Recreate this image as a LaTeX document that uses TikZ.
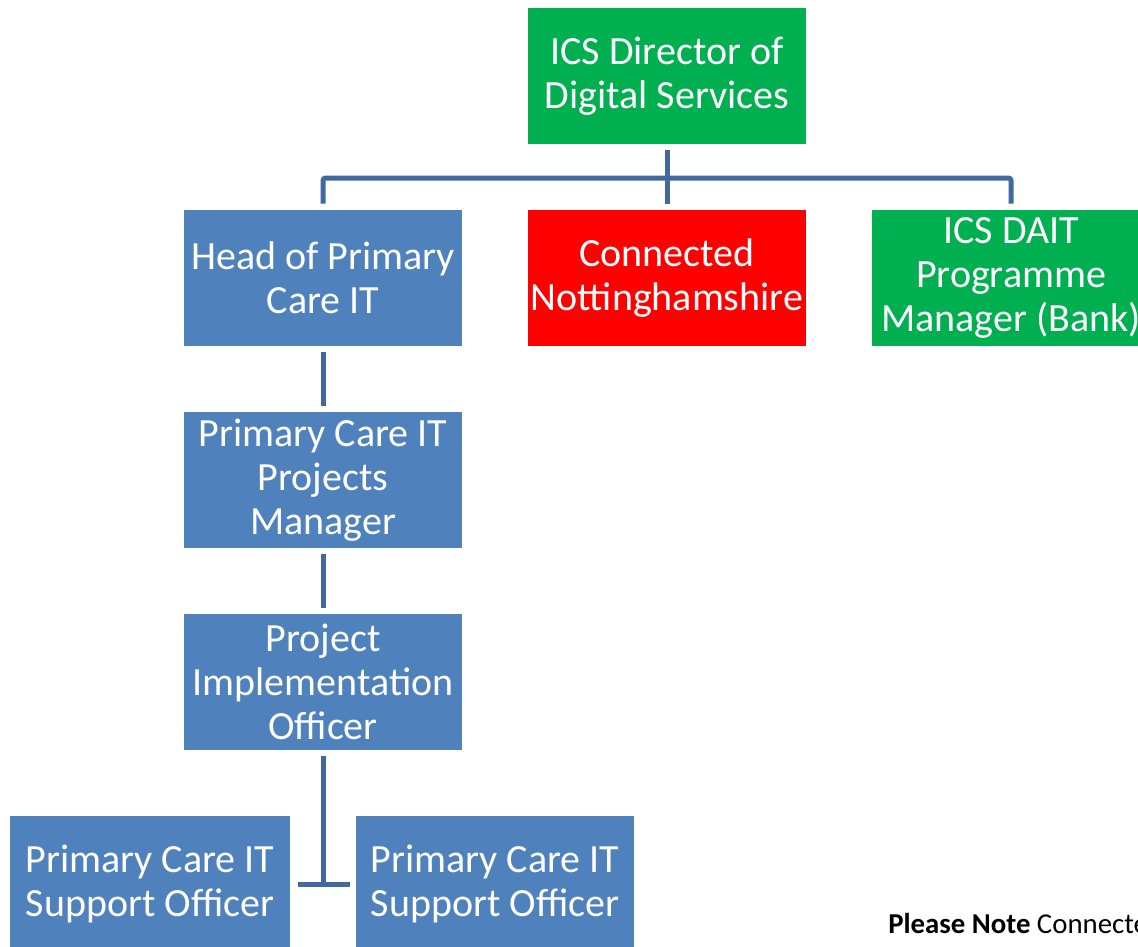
\documentclass[tikz,border=0pt]{standalone}
\usepackage{fontspec}
\setmainfont{Carlito}
\definecolor{boxblue}{RGB}{79,129,189}
\definecolor{boxgreen}{RGB}{0,176,80}
\definecolor{boxred}{RGB}{255,0,0}
\definecolor{linkblue}{RGB}{65,105,155}

\begin{document}
\begin{tikzpicture}[x=0.75pt,y=0.75pt]
\tikzstyle{rolebox}=[rectangle, fill=boxblue, text=white, align=center, inner sep=0pt,
  minimum width=208.5pt, minimum height=102pt, font=\fontsize{30}{33}\selectfont]
\tikzstyle{link}=[draw=linkblue, line width=3.75pt, shorten <=4.5pt, shorten >=4.5pt]
\useasboundingbox (0,0) rectangle (1138,-946);
\clip (0,0) rectangle (1138,-946);
\node [rolebox, fill=boxgreen] (dir) at (667,-76) {ICS Director of\\Digital Services};
\node [rolebox] (head) at (323,-278) {Head of Primary\\Care IT};
\node [rolebox, fill=boxred] (conn) at (667,-278) {Connected\\Nottinghamshire};
\node [rolebox, fill=boxgreen] (dait) at (1011,-278) {ICS DAIT\\Programme\\Manager (Bank)};
\node [rolebox] (pm) at (323,-480) {Primary Care IT\\Projects\\Manager};
\node [rolebox] (pio) at (323,-682) {Project\\Implementation\\Officer};
\node [rolebox, minimum width=210pt] (supl) at (150,-884) {Primary Care IT\\Support Officer};
\node [rolebox] (supr) at (495,-884) {Primary Care IT\\Support Officer};
\coordinate (bar) at (667,-178);
\draw [link] (dir.south) -- (conn.north);
\draw [link, rounded corners=2pt] (head.north) |- (bar) -| (dait.north);
\draw [link] (head.south) -- (pm.north);
\draw [link] (pm.south) -- (pio.north);
\draw [link, shorten >=0pt] (pio.south) -- (pio.south |- supl.east);
\draw [link, shorten <=6pt, shorten >=4.5pt] (supl.east) -- (supr.west);
\node [anchor=base west, inner sep=0pt, font=\fontsize{21.6}{25}\selectfont] (note) at (888,-933)
  {\textbf{Please Note} Connected};
\end{tikzpicture}
\end{document}
